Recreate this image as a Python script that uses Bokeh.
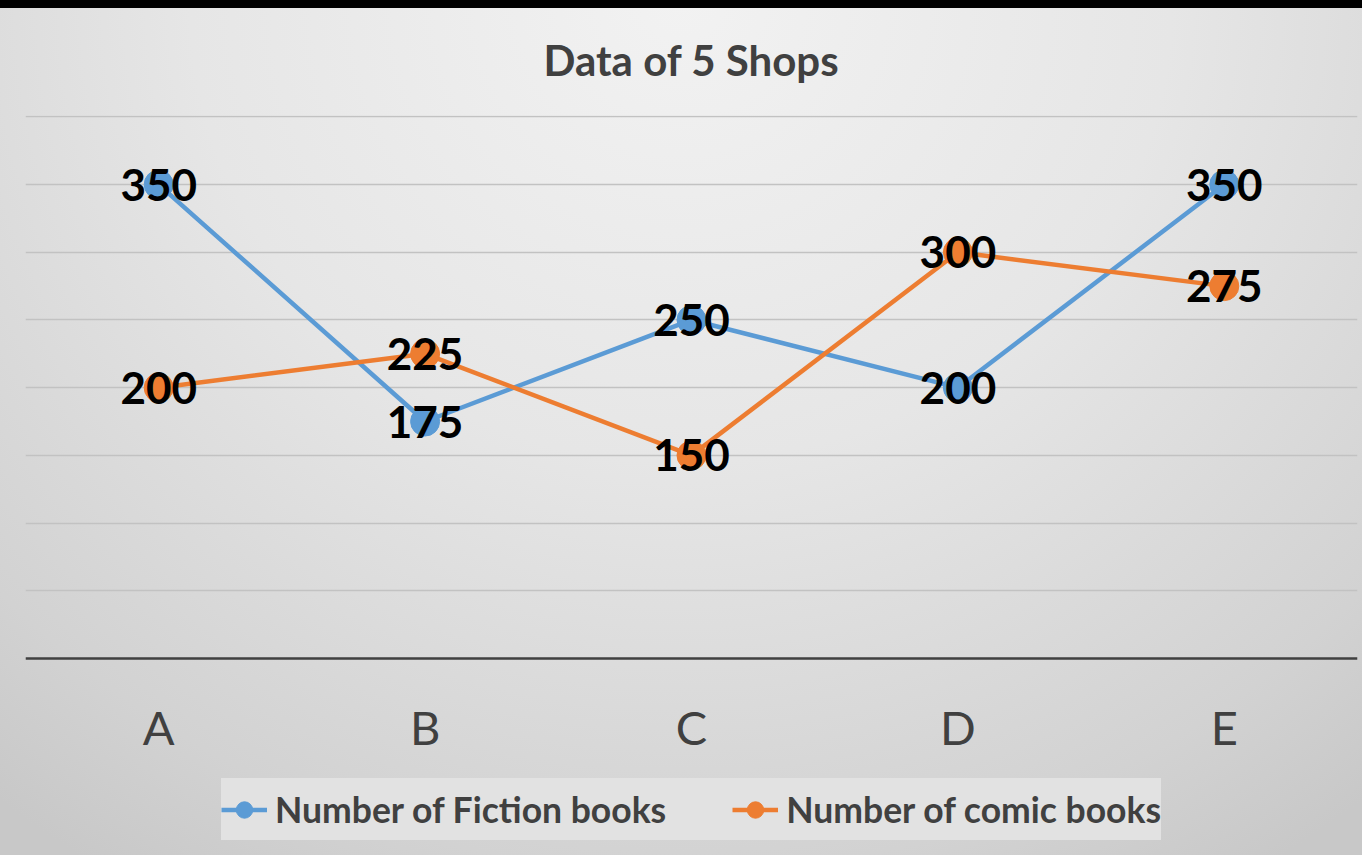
from bokeh.plotting import figure
from bokeh.models import (ColumnDataSource, LabelSet, Legend, LegendItem,
                          FixedTicker, InlineStyleSheet)
from bokeh.core.properties import value
from bokeh.embed import file_html
from bokeh.resources import INLINE

# ---- data ----
shops = ["A", "B", "C", "D", "E"]
fiction = [350, 175, 250, 200, 350]
comic = [200, 225, 150, 300, 275]
y_ticks = [0, 50, 100, 150, 200, 250, 300, 350, 400]
series_names = ["Number of Fiction books", "Number of comic books"]
title_text = "Data of 5 Shops"

BLUE = "#5B9BD5"
ORANGE = "#ED7D31"
FONT = "Lato"

# frame spans down to the bottom edge; the value axis sits at y = 0
p = figure(x_range=shops, y_range=(-145.5, 401), width=1362, height=855,
           output_backend="svg", toolbar_location=None,
           min_border_left=25, min_border_right=5,
           min_border_top=115, min_border_bottom=0)

p.stylesheets = [InlineStyleSheet(css=(
    ":host { background: linear-gradient(#000, #000) top left / 100% 8px no-repeat, "
    "radial-gradient(ellipse 80% 120% at 50% 0%, #f2f2f2 0%, #e6e6e6 45%, #d2d2d2 85%, #c8c8c8 100%); }"))]
p.border_fill_alpha = 0
p.background_fill_alpha = 0
p.outline_line_color = None

# title
p.title.text = title_text
p.title.align = "center"
p.title.text_font = FONT
p.title.text_font_size = "42px"
p.title.text_font_style = "bold"
p.title.text_color = "#404040"
p.title.standoff = 62

# axes / grid
p.yaxis.visible = False
p.xgrid.visible = False
p.ygrid.ticker = FixedTicker(ticks=y_ticks)
p.ygrid.grid_line_color = "#c2c2c2"
p.ygrid.grid_line_width = 1.6
p.xaxis.fixed_location = 0
p.xaxis.axis_line_color = "#404040"
p.xaxis.axis_line_width = 2.5
p.xaxis.major_tick_line_color = None
p.xaxis.minor_tick_line_color = None
p.xaxis.major_label_text_font = FONT
p.xaxis.major_label_text_font_size = "47px"
p.xaxis.major_label_text_color = "#404040"
p.xaxis.major_label_standoff = 35

src_f = ColumnDataSource(dict(x=shops, y=fiction, t=[str(v) for v in fiction]))
src_c = ColumnDataSource(dict(x=shops, y=comic, t=[str(v) for v in comic]))

lf = p.line("x", "y", source=src_f, line_color=BLUE, line_width=4.5)
cf = p.scatter("x", "y", source=src_f, size=29, fill_color=BLUE, line_color=BLUE)
lc = p.line("x", "y", source=src_c, line_color=ORANGE, line_width=4.5)
cc = p.scatter("x", "y", source=src_c, size=29, fill_color=ORANGE, line_color=ORANGE)

for src in (src_f, src_c):
    p.add_layout(LabelSet(x="x", y="y", text="t", source=src,
                          text_font=value(FONT), text_font_style="bold",
                          text_font_size="44px", text_color="black",
                          text_align="center", text_baseline="middle"))

legend = Legend(items=[LegendItem(label=series_names[0], renderers=[lf, cf]),
                       LegendItem(label=series_names[1], renderers=[lc, cc])],
                orientation="horizontal", location=(196, 15))
legend.label_text_font = FONT
legend.label_text_font_style = "bold"
legend.label_text_font_size = "35.5px"
legend.label_text_color = "#404040"
legend.glyph_width = 46
legend.glyph_height = 41
legend.label_height = 62
legend.label_standoff = 8
legend.spacing = 66
legend.padding = 1
legend.margin = 0
legend.background_fill_color = "#e2e2e2"
legend.background_fill_alpha = 1
legend.border_line_color = None
p.add_layout(legend)

open("out.html", "w").write(file_html(p, INLINE))
